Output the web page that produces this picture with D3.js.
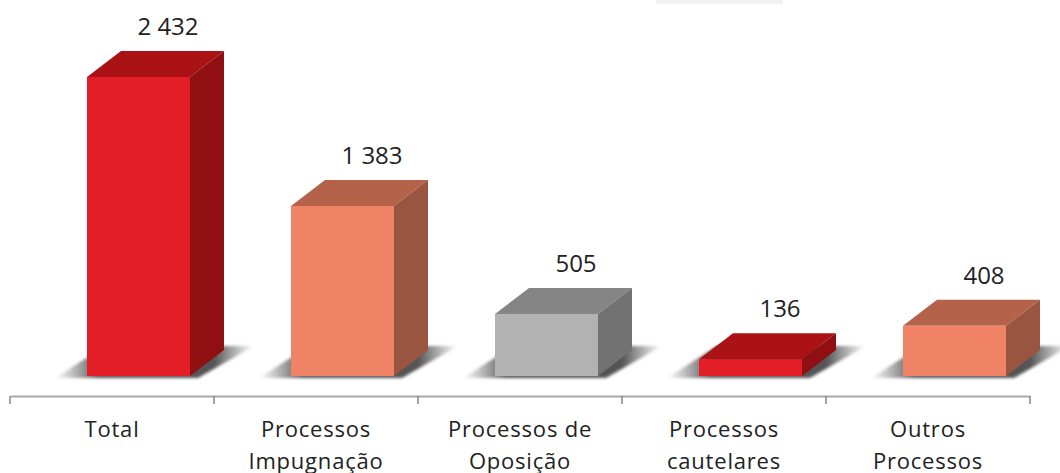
<!DOCTYPE html>
<html>
<head>
<meta charset="utf-8">
<title>Processos</title>
<style>
    body { margin: 0; background: #fff; }
    text { font-family: "Open Sans", sans-serif; fill: #222; }
    .cat text { font-size: 22px; letter-spacing: 0.8px; }
    .value { font-size: 24px; text-anchor: middle; }
    .domain { stroke: #aaa; stroke-width: 2px; }
</style>
<script src="https://d3js.org/d3.v7.min.js"></script>
</head>
<body>
<svg id="chart" width="1060" height="473"></svg>
<script>
    var categories = ["Total", "Processos|Impugnação", "Processos de|Oposição", "Processos|cautelares", "Outros|Processos"];
    var values = [2432, 1383, 505, 136, 408];
    var valueLabels = ["2 432", "1 383", "505", "136", "408"];
    var frontColors = ["#e31e26", "#f08365", "#b2b2b2", "#e31e26", "#f08365"];
    var topColors = ["#aa1216", "#b5624a", "#858585", "#aa1216", "#b5624a"];
    var sideColors = ["#8f0f12", "#9a5540", "#727272", "#8f0f12", "#9a5540"];

    var svg = d3.select("#chart");
    var base = 376, axisY = 396, depthX = 34, depthY = 26, barW = 103;

    var x = d3.scaleBand().domain(categories).range([10, 1030]);
    var y = d3.scaleLinear().domain([0, 2432]).range([base, 77]);

    var defs = svg.append("defs");
    defs.append("filter").attr("id", "soft").attr("x", "-20%").attr("y", "-40%").attr("width", "140%").attr("height", "180%")
        .append("feGaussianBlur").attr("stdDeviation", 1.8);

    // shadow fades out towards both tips
    var grad = defs.append("linearGradient").attr("id", "shade");
    grad.append("stop").attr("offset", "0%").attr("stop-color", "#666").attr("stop-opacity", 0);
    grad.append("stop").attr("offset", "22%").attr("stop-color", "#555");
    grad.append("stop").attr("offset", "80%").attr("stop-color", "#555");
    grad.append("stop").attr("offset", "100%").attr("stop-color", "#666").attr("stop-opacity", 0);

    // little grey strip at the top edge of the picture
    svg.append("rect").attr("x", 656).attr("y", 0).attr("width", 127).attr("height", 4).attr("fill", "#f2f2f2");

    function left(d) { return x(d) + 77; }

    var bars = svg.selectAll("g.bar")
        .data(categories)
        .join("g")
        .attr("class", "bar");

    // shadow on the floor
    bars.append("path")
        .attr("d", d => {
            var l = left(d);
            return "M" + (l - 32) + "," + (base + 2) + "L" + (l + barW + 8) + "," + (base + 2)
                + "L" + (l + barW + 64) + "," + (base - 30) + "L" + (l + 18) + "," + (base - 30) + "Z";
        })
        .attr("fill", "url(#shade)")
        .attr("filter", "url(#soft)");

    // top face
    bars.append("path")
        .attr("d", (d, i) => {
            var l = left(d), t = y(values[i]);
            return "M" + l + "," + t + "L" + (l + depthX) + "," + (t - depthY)
                + "L" + (l + barW + depthX) + "," + (t - depthY) + "L" + (l + barW) + "," + t + "Z";
        })
        .attr("fill", (d, i) => topColors[i]);

    // side face
    bars.append("path")
        .attr("d", (d, i) => {
            var r = left(d) + barW, t = y(values[i]);
            return "M" + r + "," + t + "L" + (r + depthX) + "," + (t - depthY)
                + "L" + (r + depthX) + "," + (base - depthY) + "L" + r + "," + base + "Z";
        })
        .attr("fill", (d, i) => sideColors[i]);

    // front face
    bars.append("rect")
        .attr("x", d => left(d))
        .attr("y", (d, i) => y(values[i]))
        .attr("width", barW)
        .attr("height", (d, i) => base - y(values[i]))
        .attr("fill", (d, i) => frontColors[i]);

    // value labels
    bars.append("text")
        .attr("class", "value")
        .attr("x", d => left(d) + 81)
        .attr("y", (d, i) => y(values[i]) - depthY - 16)
        .text((d, i) => valueLabels[i]);

    // axis, ticks sit on the band edges so the built in ones are hidden
    var axis = svg.append("g")
        .attr("class", "cat")
        .attr("transform", "translate(0," + axisY + ")")
        .call(d3.axisBottom(x).tickSize(0).tickFormat(""));

    axis.selectAll(".tick text").remove();
    axis.selectAll(".tick").append("text")
        .attr("text-anchor", "middle")
        .selectAll("tspan")
        .data(d => d.split("|"))
        .join("tspan")
        .attr("x", 0)
        .attr("y", (d, i) => 41 + i * 32)
        .text(d => d);

    svg.selectAll("line.edge")
        .data(d3.range(categories.length + 1))
        .join("line")
        .attr("class", "edge")
        .attr("x1", i => 10 + i * x.step())
        .attr("x2", i => 10 + i * x.step())
        .attr("y1", axisY)
        .attr("y2", axisY + 8)
        .attr("stroke", "#888")
        .attr("stroke-width", 1.5);
</script>
</body>
</html>
